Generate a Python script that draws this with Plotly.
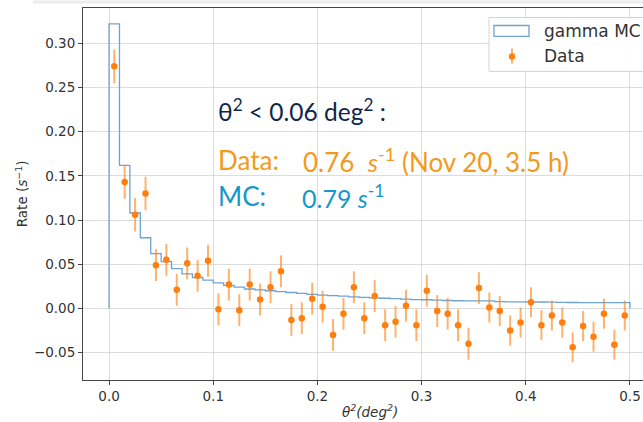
import plotly.graph_objects as go

# ---------------- data ----------------
bin_edges_start = 0.0
bin_width = 0.01
n_bins = 50

mc_rate = [0.322, 0.162, 0.108, 0.080, 0.062, 0.053, 0.045, 0.039, 0.035, 0.032,
           0.029, 0.026, 0.024, 0.022, 0.021, 0.020, 0.019, 0.018, 0.017, 0.016,
           0.015, 0.0145, 0.014, 0.013, 0.0125, 0.012, 0.0115, 0.011, 0.0105, 0.010,
           0.0098, 0.0095, 0.009, 0.0087, 0.0085, 0.0085, 0.0085, 0.0078, 0.0075, 0.0074,
           0.0073, 0.0073, 0.0072, 0.0068, 0.0067, 0.0066, 0.0066, 0.0065, 0.0065, 0.0065]

data_rate = [0.274, 0.143, 0.106, 0.130, 0.049, 0.055, 0.021, 0.051, 0.037, 0.054,
             -0.001, 0.027, -0.002, 0.027, 0.010, 0.024, 0.042, -0.013, -0.011, 0.011,
             0.002, -0.030, -0.006, 0.024, -0.011, 0.014, -0.019, -0.015, 0.003, -0.019,
             0.020, -0.003, -0.006, -0.019, -0.040, 0.023, 0.001, -0.003, -0.025, -0.016,
             0.007, -0.019, -0.008, -0.016, -0.044, -0.020, -0.032, -0.006, -0.041, -0.008]

data_err = [0.019, 0.019, 0.019, 0.019, 0.018, 0.018, 0.018, 0.018, 0.018, 0.018,
            0.018, 0.018, 0.018, 0.018, 0.018, 0.018, 0.018, 0.018, 0.018, 0.018,
            0.018, 0.018, 0.018, 0.018, 0.018, 0.018, 0.018, 0.018, 0.018, 0.018,
            0.018, 0.018, 0.018, 0.018, 0.018, 0.018, 0.017, 0.017, 0.017, 0.017,
            0.017, 0.017, 0.017, 0.017, 0.017, 0.017, 0.017, 0.017, 0.017, 0.017]

x_ticks = [0.0, 0.1, 0.2, 0.3, 0.4, 0.5]
x_ticklabels = ["0.0", "0.1", "0.2", "0.3", "0.4", "0.5"]
y_ticks = [-0.05, 0.00, 0.05, 0.10, 0.15, 0.20, 0.25, 0.30]
y_ticklabels = ["\u22120.05", "0.00", "0.05", "0.10", "0.15", "0.20", "0.25", "0.30"]

# ---------------- derived ----------------
edges = [bin_edges_start + i * bin_width for i in range(n_bins + 1)]
centers = [bin_edges_start + (i + 0.5) * bin_width for i in range(n_bins)]

# step outline (matplotlib histtype='step')
step_x = [edges[0]] + edges[:-1] + [edges[-1], edges[-1]]
step_y = [0.0] + mc_rate + [mc_rate[-1], 0.0]

W, H = 643, 422
L, R, T, B = 83, 643, 7.5, 380


def px(xp):
    return (xp - L) / (R - L)


def py(yp):
    return (B - yp) / (B - T)


fig = go.Figure()

fig.add_trace(go.Scatter(
    x=step_x, y=step_y, mode="lines", line_shape="hv",
    line=dict(color="#6fa3d3", width=1.3),
    name="gamma MC", showlegend=False, hoverinfo="skip"))

fig.add_trace(go.Scatter(
    x=centers, y=data_rate, mode="markers",
    marker=dict(color="#ff7f0e", size=6.5),
    error_y=dict(type="data", array=data_err, visible=True,
                 color="rgba(255,127,14,0.6)", thickness=2, width=0),
    name="Data", showlegend=False))

tick_font = dict(family="DejaVu Sans", size=13.5, color="#333333")

fig.update_layout(
    width=W, height=H,
    margin=dict(l=L, r=W - R, t=T, b=H - B, pad=0),
    paper_bgcolor="white", plot_bgcolor="white",
    showlegend=False,
    xaxis=dict(range=[-0.025, 0.5125], tickvals=x_ticks, ticktext=x_ticklabels,
               showgrid=True, gridcolor="#dcdcdc", gridwidth=1, zeroline=False,
               showline=True, linecolor="#444444", linewidth=1, mirror=True,
               ticks="outside", ticklen=4, tickcolor="#444444", tickfont=tick_font),
    yaxis=dict(range=[-0.081, 0.340], tickvals=y_ticks, ticktext=y_ticklabels,
               showgrid=True, gridcolor="#dcdcdc", gridwidth=1, zeroline=False,
               showline=True, linecolor="#444444", linewidth=1, mirror=False,
               ticks="outside", ticklen=4, tickcolor="#444444", tickfont=tick_font),
)

annotations = []
# axis titles
annotations.append(dict(xref="paper", yref="paper", x=px(370), y=py(411),
                        text="<i>\u03b8<sup>2</sup>(deg<sup>2</sup>)</i>", showarrow=False,
                        xanchor="center", yanchor="middle",
                        font=dict(family="DejaVu Sans", size=13.5, color="#333333")))
annotations.append(dict(xref="paper", yref="paper", x=px(22), y=py(194),
                        text="Rate (<i>s</i><sup>\u22121</sup>)", showarrow=False, textangle=-90,
                        xanchor="center", yanchor="middle",
                        font=dict(family="DejaVu Sans", size=13.5, color="#333333")))

big = "Lato"
navy, orange, blue = "#0f264b", "#f39a1c", "#1797c9"
annotations.append(dict(xref="paper", yref="paper", x=px(216), y=py(110),
                        text="\u03b8<sup>2</sup> < 0.06 deg<sup>2</sup> :", showarrow=False,
                        xanchor="left", yanchor="middle",
                        font=dict(family=big, size=24.5, color=navy)))
annotations.append(dict(xref="paper", yref="paper", x=px(216), y=py(160),
                        text="Data:", showarrow=False, xanchor="left", yanchor="middle",
                        font=dict(family=big, size=26, color=orange)))
annotations.append(dict(xref="paper", yref="paper", x=px(301), y=py(160),
                        text="0.76\u00a0 <i>s</i><sup>-1</sup> (Nov 20, 3.5 h)", showarrow=False,
                        xanchor="left", yanchor="middle",
                        font=dict(family=big, size=26, color=orange)))
annotations.append(dict(xref="paper", yref="paper", x=px(216), y=py(196),
                        text="MC:", showarrow=False, xanchor="left", yanchor="middle",
                        font=dict(family=big, size=26, color=blue)))
annotations.append(dict(xref="paper", yref="paper", x=px(300), y=py(196),
                        text="0.79 <i>s</i><sup>-1</sup>", showarrow=False,
                        xanchor="left", yanchor="middle",
                        font=dict(family=big, size=25, color=blue)))

# legend labels
leg_font = dict(family="DejaVu Sans", size=17, color="#333333")
annotations.append(dict(xref="paper", yref="paper", x=px(542), y=py(31),
                        text="gamma MC", showarrow=False, xanchor="left", yanchor="middle",
                        font=leg_font))
annotations.append(dict(xref="paper", yref="paper", x=px(542), y=py(56),
                        text="Data", showarrow=False, xanchor="left", yanchor="middle",
                        font=leg_font))
fig.update_layout(annotations=annotations)

shapes = [
    # legend frame
    dict(type="rect", xref="paper", yref="paper", x0=px(489), x1=px(660), y0=py(71), y1=py(17),
         line=dict(color="#d4d4d4", width=1), fillcolor="rgba(255,255,255,0.9)", layer="above"),
    # legend MC patch
    dict(type="rect", xref="paper", yref="paper", x0=px(494), x1=px(529), y0=py(36), y1=py(25),
         line=dict(color="#6fa3d3", width=1.3), fillcolor="rgba(0,0,0,0)", layer="above"),
    # legend Data symbol: error bar + dot
    dict(type="line", xref="paper", yref="paper", x0=px(512), x1=px(512), y0=py(63), y1=py(48),
         line=dict(color="rgba(255,127,14,0.6)", width=2), layer="above"),
    dict(type="circle", xref="paper", yref="paper", x0=px(509), x1=px(515), y0=py(59), y1=py(53),
         line=dict(color="#ff7f0e", width=0.5), fillcolor="#ff7f0e", layer="above"),
    # faint strip at top of the screenshot
    dict(type="rect", xref="paper", yref="paper", x0=px(33), x1=px(643), y0=py(3), y1=py(0),
         line=dict(width=0), fillcolor="#ececec", layer="above"),
]
fig.update_layout(shapes=shapes)

fig.write_html("out.html")
